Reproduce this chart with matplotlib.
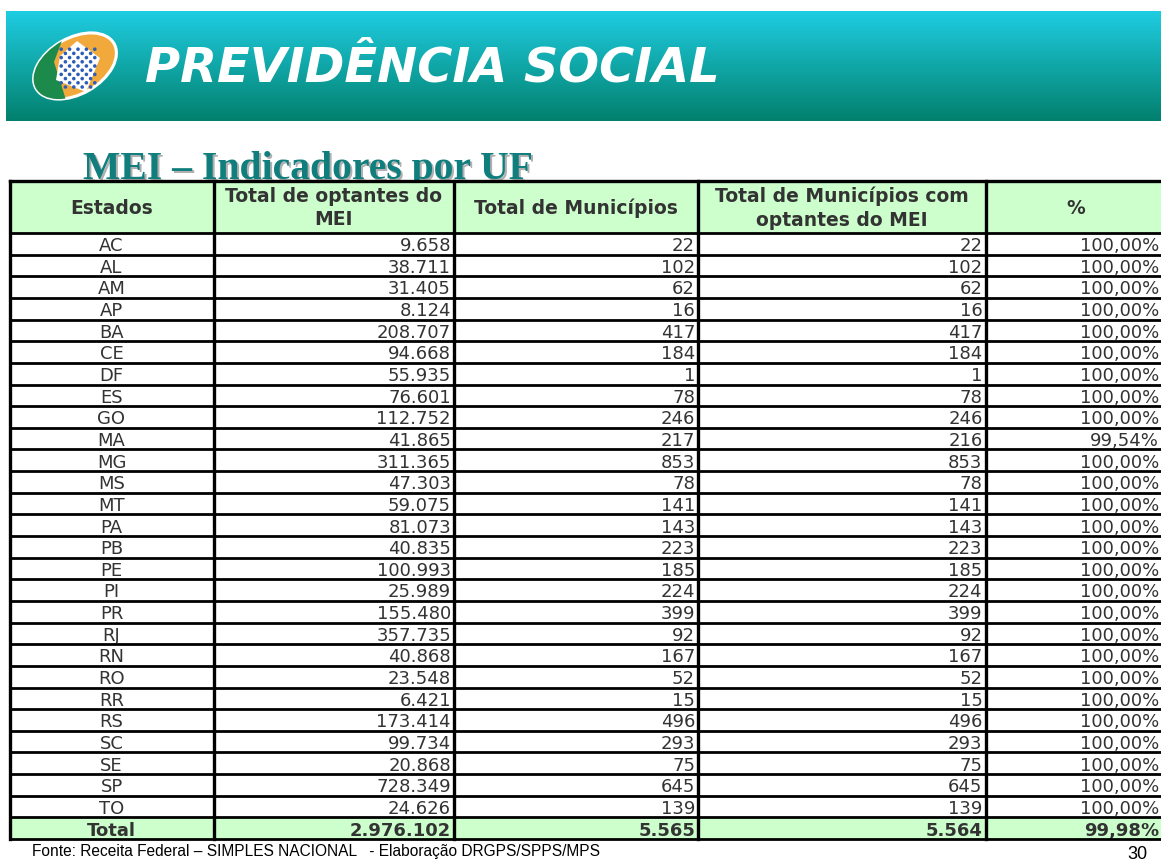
import numpy as np
import matplotlib.pyplot as plt
from matplotlib.patches import Rectangle, Ellipse, Polygon

# ---- data -------------------------------------------------------------
estados = ['AC', 'AL', 'AM', 'AP', 'BA', 'CE', 'DF', 'ES', 'GO', 'MA', 'MG', 'MS', 'MT', 'PA',
           'PB', 'PE', 'PI', 'PR', 'RJ', 'RN', 'RO', 'RR', 'RS', 'SC', 'SE', 'SP', 'TO']
optantes = [9658, 38711, 31405, 8124, 208707, 94668, 55935, 76601, 112752, 41865, 311365,
            47303, 59075, 81073, 40835, 100993, 25989, 155480, 357735, 40868, 23548, 6421,
            173414, 99734, 20868, 728349, 24626]
municipios = [22, 102, 62, 16, 417, 184, 1, 78, 246, 217, 853, 78, 141, 143, 223, 185, 224,
              399, 92, 167, 52, 15, 496, 293, 75, 645, 139]
municipios_mei = [22, 102, 62, 16, 417, 184, 1, 78, 246, 216, 853, 78, 141, 143, 223, 185, 224,
                  399, 92, 167, 52, 15, 496, 293, 75, 645, 139]
headers = ['Estados', 'Total de optantes do\nMEI', 'Total de Municípios',
           'Total de Municípios com\noptantes do MEI', '%']


def fmt_int(v):
    return f"{v:,}".replace(',', '.')


def fmt_pct(a, b):
    return f"{100.0 * a / b:.2f}".replace('.', ',') + '%'


# ---- figure in pixel coordinates ------------------------------------
W, H = 1161, 861
fig = plt.figure(figsize=(W / 100, H / 100), dpi=100)
ax = fig.add_axes([0, 0, 1, 1])
ax.set_xlim(0, W)
ax.set_ylim(H, 0)
ax.axis('off')

# banner gradient
grad = np.linspace(0, 1, 256)[:, None]
top_c = np.array([0x1F, 0xCD, 0xE2]) / 255
bot_c = np.array([0x02, 0x80, 0x6D]) / 255
img = top_c[None, None, :] * (1 - grad[..., None]) + bot_c[None, None, :] * grad[..., None]
img = np.repeat(img, 2, axis=1)
ax.imshow(img, extent=[6, W, 121, 11], aspect='auto', interpolation='bilinear', zorder=0)

# logo
logo_c = (75, 66)
ell = Ellipse(logo_c, 90, 56, angle=-30, facecolor='#F2A93B', edgecolor='white', lw=2.2, zorder=2)
ax.add_patch(ell)
green = Polygon([(20, 30), (66, 30), (54, 62), (66, 100), (20, 100)], closed=True,
                facecolor='#1B8A4A', edgecolor='none', zorder=3)
ax.add_patch(green)
green.set_clip_path(ell)
diamond = Polygon([(77, 41), (100, 58), (86, 92), (56, 80), (60, 56)], closed=True,
                  facecolor='white', edgecolor='none', zorder=4)
ax.add_patch(diamond)
diamond.set_clip_path(ell)
for i in range(-4, 5):
    for j in range(-4, 5):
        px = 78 + (i - j) * 4.2
        py = 66 + (i + j) * 4.2
        if abs(i) + abs(j) <= 6 and 58 < px < 99 and 45 < py < 89:
            ax.add_patch(Ellipse((px, py), 3.6, 3.6, facecolor='#2E5CB8',
                                 edgecolor='none', zorder=5))

ax.text(145, 81, 'PREVIDÊNCIA SOCIAL', color='white', fontsize=34.5, fontweight='bold',
        fontstyle='italic', family='DejaVu Sans', ha='left', va='baseline', zorder=6)

# title with shadow
title = 'MEI – Indicadores por UF'
ax.text(310, 181, title, color='#B0B0B0', fontsize=28.5, fontweight='bold',
        family='Liberation Serif', ha='center', va='baseline', zorder=6)
ax.text(308, 179, title, color='#0F7E7C', fontsize=28.5, fontweight='bold',
        family='Liberation Serif', ha='center', va='baseline', zorder=7)

# ---- table ------------------------------------------------------------
col_x = [9.5, 213.5, 454, 698, 985.5, 1178]
tab_top, head_bot = 181, 233
n_rows = len(estados) + 1
row_h = (839 - head_bot) / n_rows
green_fill = '#CCFFCC'
txt_c = '#333333'

ax.add_patch(Rectangle((col_x[0], tab_top), col_x[-1] - col_x[0], head_bot - tab_top,
                       facecolor=green_fill, edgecolor='none', zorder=8))
total_top = head_bot + row_h * (n_rows - 1)
ax.add_patch(Rectangle((col_x[0], total_top), col_x[-1] - col_x[0], row_h,
                       facecolor=green_fill, edgecolor='none', zorder=8))

for k, h in enumerate(headers):
    xc = (col_x[k] + col_x[k + 1]) / 2 if k < 4 else 1076
    ax.text(xc, (tab_top + head_bot) / 2 + 1, h, color=txt_c, fontsize=13.5, fontweight='bold',
            family='DejaVu Sans', ha='center', va='center', linespacing=1.3, zorder=10)

rows = [[e, fmt_int(o), fmt_int(m), fmt_int(mm), fmt_pct(mm, m)]
        for e, o, m, mm in zip(estados, optantes, municipios, municipios_mei)]
rows.append(['Total', fmt_int(sum(optantes)), fmt_int(sum(municipios)),
             fmt_int(sum(municipios_mei)), fmt_pct(sum(municipios_mei), sum(municipios))])

for r, vals in enumerate(rows):
    y_base = head_bot + row_h * r + 18.2
    bold = r == len(rows) - 1
    for k, v in enumerate(vals):
        if k == 0:
            x, ha = (col_x[0] + col_x[1]) / 2, 'center'
        elif k == 4:
            x, ha = 1159, 'right'
        else:
            x, ha = col_x[k + 1] - 3, 'right'
        ax.text(x, y_base, v, color=txt_c, fontsize=13, family='DejaVu Sans',
                fontweight='bold' if bold else 'normal', ha=ha, va='baseline', zorder=10)

# grid lines
for r in range(n_rows + 1):
    y = head_bot + row_h * r
    ax.plot([col_x[0], col_x[-1]], [y, y], color='black', lw=2.0, zorder=11,
            solid_capstyle='butt')
ax.plot([col_x[0], col_x[-1]], [tab_top, tab_top], color='black', lw=2.4, zorder=11)
for x in col_x:
    ax.plot([x, x], [tab_top, 839], color='black', lw=2.4, zorder=11)

# footer
ax.text(32, 856, 'Fonte: Receita Federal – SIMPLES NACIONAL   - Elaboração DRGPS/SPPS/MPS',
        color='black', fontsize=11.2, family='Liberation Sans',
        ha='left', va='baseline', zorder=10)
ax.text(1127, 859, '30', color='black', fontsize=13, family='Liberation Sans',
        ha='left', va='baseline', zorder=10)

fig.savefig('out.png', dpi=100, facecolor='white')
